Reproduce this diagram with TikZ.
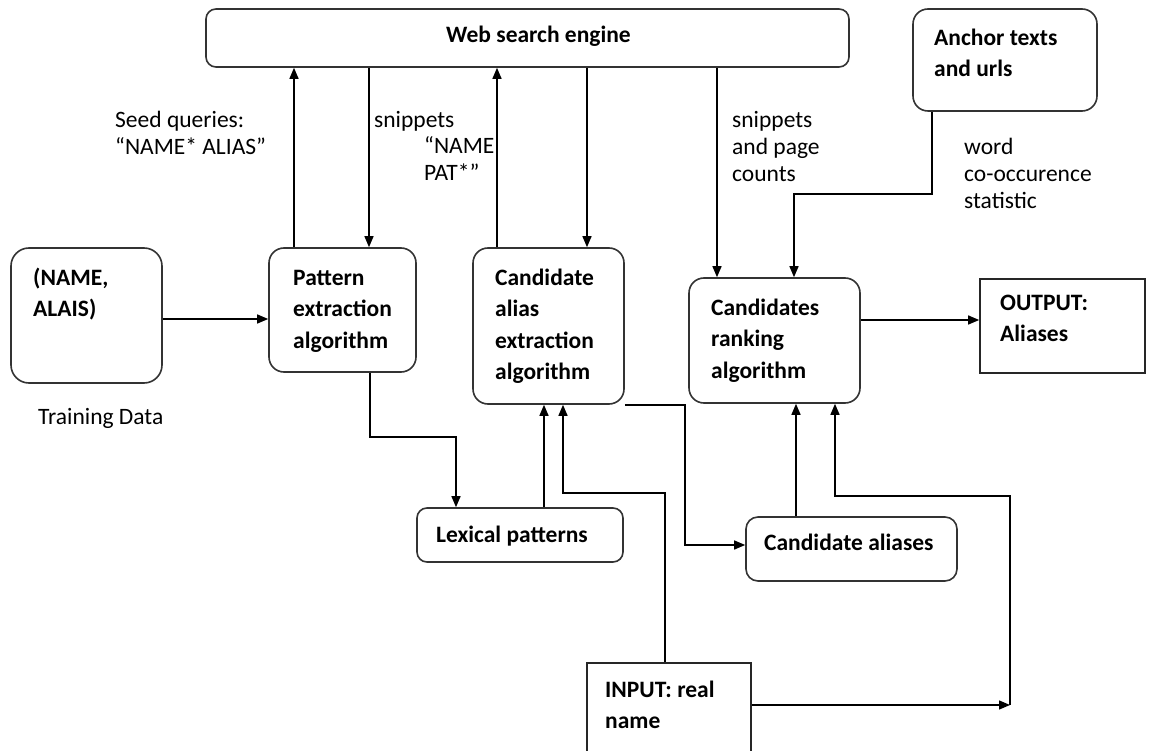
\documentclass[tikz,border=0pt]{standalone}
\usepackage{fontspec}
\setmainfont{Carlito}
\usetikzlibrary{arrows.meta}

\tikzset{
  rbox/.style={draw=black!80, line width=1.6pt, rounded corners=15pt, inner sep=0pt, fill=white},
  sbox/.style={draw=black!85, line width=1.6pt, inner sep=0pt, fill=white},
  btext/.style={font=\bfseries\fontsize{23.5}{31.5}\selectfont, align=left, anchor=north west, inner sep=0pt},
  ltext/.style={font=\fontsize{23.5}{27}\selectfont, align=left, anchor=north west, inner sep=0pt},
  link/.style={line width=1.4pt, draw=black},
  arr/.style={link, -{Triangle[length=11pt,width=9pt]}}
}

\begin{document}
\begin{tikzpicture}[x=1pt, y=-1pt]
  \path[use as bounding box, fill=white] (0,0) rectangle (1149,751);
  \clip (0,0) rectangle (1149,751);

  % boxes
  \node[rbox, rounded corners=10pt, minimum width=643pt, minimum height=58pt] (web) at (527.5,38) {};
  \node[rbox, minimum width=184pt, minimum height=102pt] (anchor) at (1005,60) {};
  \node[rbox, rounded corners=18pt, minimum width=151pt, minimum height=135pt] (name) at (86.5,315.5) {};
  \node[rbox, minimum width=147pt, minimum height=124pt] (pattern) at (342.5,310) {};
  \node[rbox, minimum width=151pt, minimum height=156pt] (calias) at (548.5,326) {};
  \node[rbox, minimum width=171pt, minimum height=125pt] (rank) at (774.5,340.5) {};
  \node[sbox, minimum width=165pt, minimum height=94pt] (output) at (1062.5,326) {};
  \node[rbox, rounded corners=10pt, minimum width=206pt, minimum height=54pt] (lexical) at (520,535) {};
  \node[rbox, rounded corners=12pt, minimum width=211pt, minimum height=64pt] (caliases) at (851.5,549) {};
  \node[sbox, minimum width=164pt, minimum height=120pt] (input) at (669,723) {};

  % box texts
  \node[btext] (webt) at (446,20) {\strut Web search engine};
  \node[btext] (anchort) at (934,23) {\strut Anchor texts\\and urls};
  \node[btext] (namet) at (33,263) {\strut (NAME,\\ALAIS)};
  \node[btext] (patternt) at (293,263) {\strut Pattern\\extraction\\algorithm};
  \node[btext] (caliast) at (495,263) {\strut Candidate\\alias\\extraction\\algorithm};
  \node[btext] (rankt) at (711,293) {\strut Candidates\\ranking\\algorithm};
  \node[btext] (outputt) at (1000,288) {\strut OUTPUT:\\Aliases};
  \node[btext] (lexicalt) at (436,520) {\strut Lexical patterns};
  \node[btext] (caliasest) at (764,528) {\strut Candidate aliases};
  \node[btext] (inputt) at (605,675) {\strut INPUT: real\\name};

  % free labels
  \node[ltext] (training) at (38,405) {\strut Training Data};
  \node[ltext] (seed) at (115,108) {\strut Seed queries:\\“NAME* ALIAS”};
  \node[ltext] (snip1) at (374,108) {\strut snippets};
  \node[ltext] (namepat) at (424,134) {\strut “NAME\\PAT*”};
  \node[ltext] (snip2) at (732,108) {\strut snippets\\and page\\counts};
  \node[ltext] (cooc) at (964,135) {\strut word\\co-occurence\\statistic};

  % connectors to and from the search engine
  \draw[arr] (pattern.north -| 294,0) -- (web.south -| 294,0);
  \draw[arr] (web.south -| 369,0) -- (pattern.north -| 369,0);
  \draw[arr] (calias.north -| 497,0) -- (web.south -| 497,0);
  \draw[arr] (web.south -| 587,0) -- (calias.north -| 587,0);
  \draw[arr] (web.south -| 717,0) -- (rank.north -| 717,0);
  \draw[arr] (anchor.south -| 932,0) |- (794,194) -- (rank.north -| 794,0);

  % main flow
  \draw[arr] (name.east |- 0,319) -- (pattern.west |- 0,319);
  \draw[arr] (rank.east |- 0,320) -- (output.west |- 0,320);
  \draw[arr] (pattern.south -| 370,0) -- (370,437) -| (lexical.north -| 456,0);
  \draw[arr] (lexical.north -| 544,0) -- (calias.south -| 544,0);
  \draw[arr] (input.north -| 665,0) -- (665,493) -| (calias.south -| 563,0);
  \draw[arr] (calias.south east) -| (685,545) -- (caliases.west |- 0,545);
  \draw[arr] (caliases.north -| 796,0) -- (rank.south -| 796,0);

  % real name fed to the ranking step
  \coordinate (turn) at (1010,705);
  \draw[arr] (input.east |- 0,705) -- (turn);
  \draw[arr] (turn) |- (835,496) -- (rank.south -| 835,0);
\end{tikzpicture}
\end{document}
